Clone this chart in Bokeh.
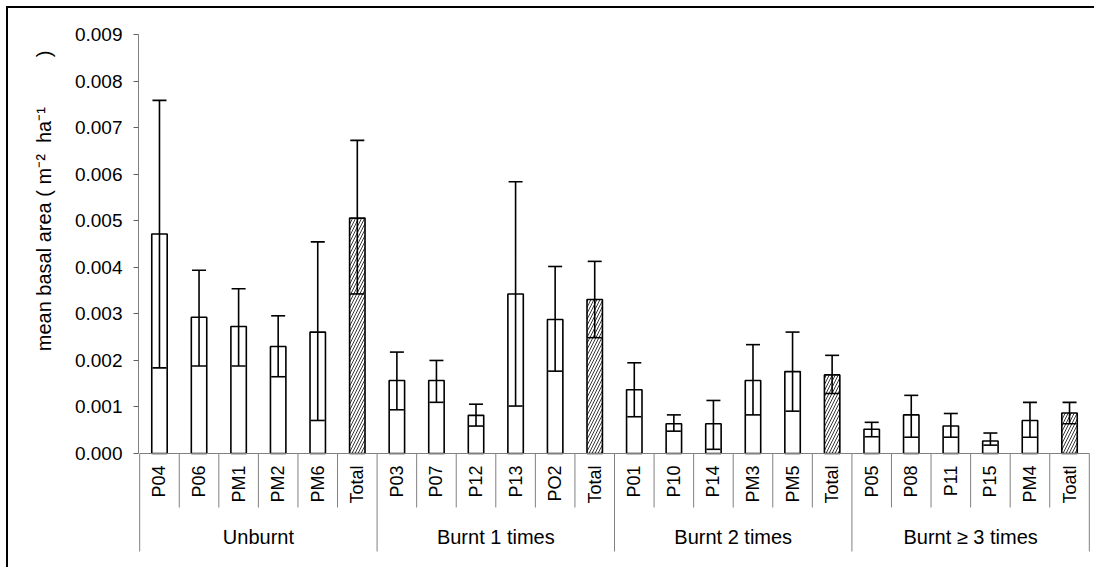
import math
from bokeh.plotting import figure
from bokeh.models import ColumnDataSource, Range1d, FixedTicker, NumeralTickFormatter, Whisker, TeeHead, Title
from bokeh.core.properties import value
from bokeh.embed import file_html
from bokeh.resources import INLINE

# ---- data ----
groups = ["Unburnt", "Burnt 1 times", "Burnt 2 times", "Burnt \u2265 3 times"]
sites = ["P04", "P06", "PM1", "PM2", "PM6", "Total",
         "P03", "P07", "P12", "P13", "PO2", "Total",
         "P01", "P10", "P14", "PM3", "PM5", "Total",
         "P05", "P08", "P11", "P15", "PM4", "Toatl"]
is_total = [False, False, False, False, False, True] * 4
mean = [0.00472, 0.00293, 0.00273, 0.00230, 0.00261, 0.00506,
        0.00157, 0.00157, 0.00082, 0.00343, 0.00288, 0.00331,
        0.00137, 0.00064, 0.00064, 0.00157, 0.00176, 0.00169,
        0.00052, 0.00083, 0.00059, 0.00027, 0.00071, 0.00087]
upper = [0.00759, 0.00394, 0.00354, 0.00296, 0.00455, 0.00673,
         0.00218, 0.00200, 0.00106, 0.00584, 0.00402, 0.00413,
         0.00195, 0.00083, 0.00114, 0.00234, 0.00261, 0.00211,
         0.00067, 0.00125, 0.00086, 0.00044, 0.00110, 0.00110]
lower = [0.00184, 0.00188, 0.00188, 0.00165, 0.00071, 0.00343,
         0.00094, 0.00110, 0.00059, 0.00102, 0.00177, 0.00249,
         0.00079, 0.00048, 0.00009, 0.00083, 0.00091, 0.00129,
         0.00036, 0.00035, 0.00035, 0.00018, 0.00035, 0.00064]
y_ticks = [0.000, 0.001, 0.002, 0.003, 0.004, 0.005, 0.006, 0.007, 0.008, 0.009]
NB = "\u00a0"
y_label = "mean basal area (" + NB + "m\u207b\u00b2" + NB * 2 + "ha\u207b\u00b9" + NB * 9 + ")"

# ---- geometry (layout only) ----
PX = 46.52 / 0.001          # pixels per data unit
frame_top, frame_bottom, zero_px = 25, 556, 453
y_top = (zero_px - frame_top) / PX
y_bot = -(frame_bottom - zero_px) / PX
tick_sep_len = (507 - zero_px) / PX
group_sep_len = (551 - zero_px) / PX
label_y = (zero_px - 465) / PX
group_label_y = (zero_px - 536) / PX

n = len(sites)
xc = [i + 0.5 for i in range(n)]
FONT = value("Liberation Sans")

p = figure(frame_width=952, frame_height=frame_bottom - frame_top,
           x_range=Range1d(-0.03, n + 0.03), y_range=Range1d(y_bot, y_top),
           x_axis_location=None, output_backend="svg", toolbar_location=None,
           min_border_left=130, min_border_right=4, min_border_top=17, min_border_bottom=11)
p.outline_line_color = None
p.grid.visible = False
p.background_fill_color = "white"
p.border_fill_color = "white"
p.styles = {"border-left": "2px solid black", "border-top": "2px solid black",
            "margin-left": "6px", "margin-top": "6px"}

# bars
plain = ColumnDataSource(dict(x=[x for x, t in zip(xc, is_total) if not t],
                              top=[m for m, t in zip(mean, is_total) if not t]))
tot = ColumnDataSource(dict(x=[x for x, t in zip(xc, is_total) if t],
                            top=[m for m, t in zip(mean, is_total) if t]))
p.vbar(x="x", top="top", bottom=0, width=0.39, source=plain,
       fill_color="white", line_color="black", line_width=1.6)
p.vbar(x="x", top="top", bottom=0, width=0.39, source=tot,
       fill_color="white", line_color="black", line_width=1.6,
       hatch_pattern="/", hatch_color="#202020", hatch_scale=6, hatch_weight=0.9)

# error bars
err = ColumnDataSource(dict(x=xc, upper=upper, lower=lower))
p.add_layout(Whisker(source=err, base="x", upper="upper", lower="lower", level="overlay",
                     line_color="black", line_width=1.6,
                     upper_head=TeeHead(size=14, line_color="black", line_width=1.6),
                     lower_head=TeeHead(size=14, line_color="black", line_width=1.6)))

# x axis line + separators
p.segment(x0=[0], y0=[0], x1=[n], y1=[0], line_color="#808080", line_width=1)
inner = [i for i in range(1, n) if i % 6 != 0]
outer = [i for i in range(0, n + 1) if i % 6 == 0]
p.segment(x0=inner, y0=[0] * len(inner), x1=inner, y1=[-tick_sep_len] * len(inner),
          line_color="#808080", line_width=1)
p.segment(x0=outer, y0=[0] * len(outer), x1=outer, y1=[-group_sep_len] * len(outer),
          line_color="#808080", line_width=1)

# category labels
p.text(x=xc, y=[label_y] * n, text=sites, angle=math.pi / 2, text_align="right",
       text_baseline="middle", text_font=FONT, text_font_size="18px", text_color="black")
gx = [6 * g + 3 for g in range(len(groups))]
p.text(x=gx, y=[group_label_y] * len(groups), text=groups, text_align="center",
       text_baseline="middle", text_font=FONT, text_font_size="20px", text_color="black")

# y axis
ya = p.yaxis[0]
ya.bounds = (0, 0.009)
ya.ticker = FixedTicker(ticks=y_ticks)
ya.formatter = NumeralTickFormatter(format="0.000")
ya.minor_tick_line_color = None
ya.major_tick_out = 5
ya.major_tick_in = 0
ya.axis_line_color = "#808080"
ya.major_tick_line_color = "#606060"
ya.major_label_text_font = "Liberation Sans"
ya.major_label_text_font_size = "19px"
ya.major_label_text_color = "black"
ya.major_label_standoff = 11

p.add_layout(Title(text=y_label, align="right", offset=25, standoff=34,
                   text_font="Liberation Sans", text_font_size="20px",
                   text_font_style="normal", text_color="black"), "left")

open("out.html", "w").write(file_html(p, INLINE))
